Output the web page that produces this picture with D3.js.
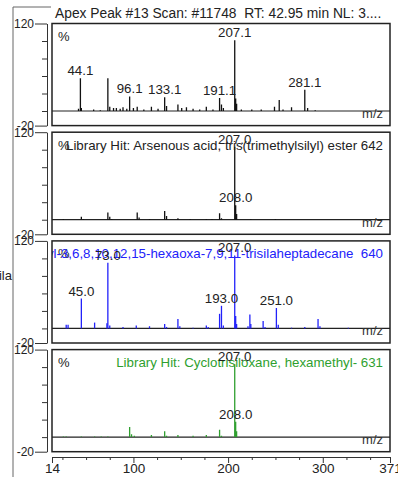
<!DOCTYPE html>
<html>
<head>
<meta charset="utf-8">
<script src="https://cdn.jsdelivr.net/npm/d3@7"></script>
<style>
    body { margin: 0; background: #fff; }
    text { font-family: "Liberation Sans", Arial, sans-serif; }
</style>
</head>
<body>
<svg id="chart" width="398" height="477"></svg>
<script>
// spectra as [m/z, relative intensity %]
let apexPeaks = [[42, 3], [44, 45], [45, 4], [58, 2], [65, 1], [73, 45], [75, 6], [79, 4], [82, 4], [86, 3],
    [89, 5], [93, 3], [96, 20], [100, 4], [104, 6], [111, 2], [119, 6], [126, 3], [133, 19], [135, 7],
    [147, 9], [151, 4], [156, 5], [163, 3], [170, 2], [177, 6], [184, 2], [191, 18], [193, 9], [195, 4],
    [207, 97], [208, 17], [209, 10], [214, 2], [225, 2], [235, 2], [249, 6], [254, 15], [258, 2], [267, 5],
    [281, 29], [284, 4], [292, 1]];
let arsenousPeaks = [[26, 1], [45, 4], [47, 1], [73, 10], [75, 4], [77, 1], [104, 10], [106, 3], [117, 1],
    [133, 12], [135, 5], [147, 2], [160, 1], [177, 1], [183, 1], [191, 9], [193, 2], [207, 100], [208, 20],
    [209, 8], [224, 1], [250, 1]];
let hexaoxaPeaks = [[29, 5], [31, 5], [45, 41], [59, 8], [72, 7], [73, 90], [75, 4], [89, 2], [103, 4],
    [117, 3], [133, 6], [135, 2], [147, 13], [149, 3], [163, 1], [177, 4], [179, 2], [191, 20], [193, 31],
    [195, 4], [207, 100], [208, 17], [209, 6], [221, 3], [223, 19], [224, 6], [237, 10], [239, 2], [251, 28],
    [253, 5], [267, 1], [281, 2], [295, 13], [297, 3], [327, 1]];
let cyclotrisiloxanePeaks = [[26, 1], [29, 1], [45, 1], [59, 1], [66, 1], [73, 1], [96, 14], [98, 4], [101, 2],
    [119, 3], [133, 8], [135, 2], [147, 3], [163, 2], [177, 3], [191, 10], [193, 2], [207, 100], [208, 21],
    [209, 8]];

// peak labels as [m/z, text]
let apexLabels = [[44, "44.1"], [96, "96.1"], [133, "133.1"], [191, "191.1"], [207, "207.1"], [281, "281.1"]];
let arsenousLabels = [[207, "207.0"], [208, "208.0"]];
let hexaoxaLabels = [[45, "45.0"], [73, "73.0"], [193, "193.0"], [207, "207.0"], [251, "251.0"]];
let cyclotrisiloxaneLabels = [[207, "207.0"], [208, "208.0"]];

let titleText = "Apex Peak #13 Scan: #11748\u00a0 RT: 42.95 min NL: 3....";
let hitTexts = ["",
    "Library Hit: Arsenous acid, tris(trimethylsilyl) ester 642",
    "Library Hit: 7,7,9,9,11,11-Hexamethyl-3,6,8,10,12,15-hexaoxa-7,9,11-trisilaheptadecane\u00a0 640",
    "Library Hit: Cyclotrisiloxane, hexamethyl- 631"];

let xTicks = [14, 25, 50, 75, 100, 125, 150, 175, 200, 225, 250, 275, 300, 325, 350, 371];
let xLabelled = [14, 100, 200, 300, 371];
let yTicks = [-20, 0, 24, 48, 72, 96, 120];

let panels = [
    {peaks: apexPeaks, labels: apexLabels, color: "#111"},
    {peaks: arsenousPeaks, labels: arsenousLabels, color: "#111"},
    {peaks: hexaoxaPeaks, labels: hexaoxaLabels, color: "#2222fa"},
    {peaks: cyclotrisiloxanePeaks, labels: cyclotrisiloxaneLabels, color: "#2f9f2f"}
];

let svg = d3.select('#chart');

let left = 52, right = 390;
let xScale = d3.scaleLinear().domain([14, 371]).range([left, right]);

// outer frame
svg.append("path")
    .attr("d", "M13,477V7H398")
    .attr("fill", "none")
    .attr("stroke", "#666")
    .attr("stroke-width", 1);

svg.append("rect")
    .attr("x", 51).attr("y", 1)
    .attr("width", 347).attr("height", 18)
    .attr("fill", "#fff");

svg.append("text")
    .attr("x", 55).attr("y", 18)
    .attr("font-size", "13.8px")
    .attr("fill", "#222")
    .text(titleText);

// text cut off at the left edge
svg.append("text")
    .attr("x", 12).attr("y", 280)
    .attr("text-anchor", "end")
    .attr("font-size", "13px")
    .attr("fill", "#222")
    .text("trisila");

panels.forEach((p, i) => {
    let zero = 111 + 108.7 * i;
    let yScale = d3.scaleLinear().domain([-20, 120]).range([zero + 14.6, zero - 87.5]);
    let top = yScale(120), bottom = yScale(-20);
    let g = svg.append("g");

    g.append("clipPath")
        .attr("id", "clip" + i)
        .append("rect")
        .attr("x", left).attr("y", top)
        .attr("width", right - left).attr("height", bottom - top);

    // y axis
    let yAxis = d3.axisLeft(yScale)
        .tickValues(yTicks)
        .tickSize(12)
        .tickSizeOuter(0)
        .tickPadding(1)
        .tickFormat(d => (d === 120 || d === -20) ? d : "");

    let ya = g.append("g")
        .attr("transform", "translate(" + [47, 0] + ")")
        .call(yAxis);
    ya.selectAll(".tick line")
        .attr("x2", d => (d === 120 || d === -20) ? -12 : -5)
        .attr("stroke", "#333");
    ya.select(".domain").attr("stroke", "#333");
    ya.selectAll("text")
        .attr("font-size", "12px")
        .attr("font-family", "'Liberation Sans', Arial, sans-serif")
        .attr("fill", "#222");

    // zero line
    g.append("line")
        .attr("x1", left).attr("x2", right)
        .attr("y1", yScale(0)).attr("y2", yScale(0))
        .attr("stroke", "#222")
        .attr("stroke-width", 1.2);

    // peaks
    g.append("g")
        .attr("clip-path", "url(#clip" + i + ")")
        .selectAll("line")
        .data(p.peaks)
        .enter()
        .append("line")
        .attr("x1", d => xScale(d[0]))
        .attr("x2", d => xScale(d[0]))
        .attr("y1", yScale(0))
        .attr("y2", d => yScale(d[1]))
        .attr("stroke", p.color)
        .attr("stroke-width", 1.3);

    // header
    g.append("text")
        .attr("x", 58).attr("y", top + 17.5)
        .attr("font-size", "13px")
        .attr("fill", "#222")
        .text("%");

    g.append("text")
        .attr("clip-path", "url(#clip" + i + ")")
        .attr("x", 383).attr("y", top + 17.5)
        .attr("text-anchor", "end")
        .attr("font-size", "13.3px")
        .attr("fill", i < 2 ? "#222" : p.color)
        .text(hitTexts[i]);

    // peak labels
    let intensityAt = mz => p.peaks.find(d => d[0] === mz)[1];
    g.selectAll(".peak-label")
        .data(p.labels)
        .enter()
        .append("text")
        .attr("class", "peak-label")
        .attr("x", d => xScale(d[0]))
        .attr("y", d => yScale(intensityAt(d[0])) - 3)
        .attr("text-anchor", "middle")
        .attr("font-size", "13.3px")
        .attr("fill", "#222")
        .text(d => d[1]);

    g.append("text")
        .attr("x", 383).attr("y", yScale(0) + 7)
        .attr("text-anchor", "end")
        .attr("font-size", "13px")
        .attr("fill", "#333")
        .text("m/z");

    // panel box
    g.append("rect")
        .attr("x", left).attr("y", top)
        .attr("width", right - left).attr("height", bottom - top)
        .attr("fill", "none")
        .attr("stroke", "#222")
        .attr("stroke-width", 1.5);
});

// m/z axis
let xAxis = d3.axisBottom(xScale)
    .tickValues(xTicks)
    .tickSize(6)
    .tickSizeOuter(0)
    .tickPadding(0)
    .tickFormat(d => xLabelled.includes(d) ? d : "");

let xa = svg.append("g")
    .attr("transform", "translate(" + [0, 457] + ")")
    .call(xAxis);
xa.selectAll(".tick line")
    .attr("y2", d => xLabelled.includes(d) ? 6 : 3)
    .attr("stroke", "#333");
xa.select(".domain").attr("stroke", "#333");
xa.selectAll("text")
    .attr("font-size", "13.5px")
    .attr("font-family", "'Liberation Sans', Arial, sans-serif")
    .attr("fill", "#222");
</script>
</body>
</html>
